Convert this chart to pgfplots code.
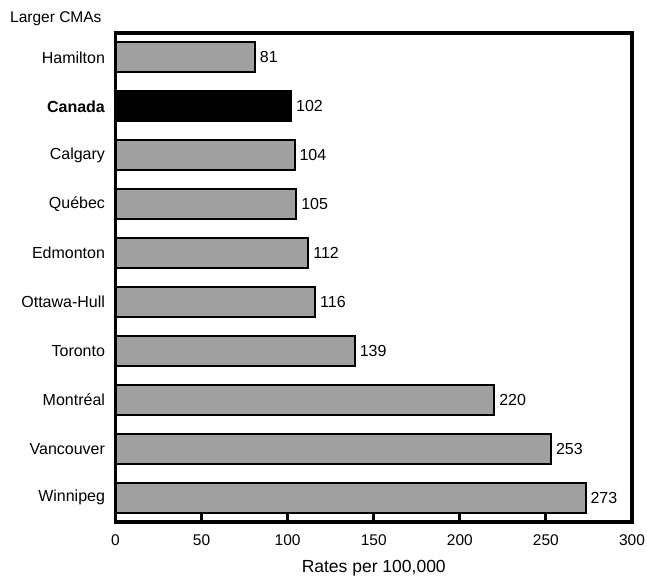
\documentclass[border=0pt]{standalone}
\usepackage{pgfplots}
\pgfplotsset{compat=1.18}
\usepackage{fontspec}
\setmainfont{Liberation Sans}
\definecolor{bargray}{HTML}{A0A0A0}
\begin{document}
\begin{tikzpicture}[x=1pt,y=1pt]
\useasboundingbox (-115.5,-58) rectangle (531.5,522);
\begin{axis}[
  at={(0,0)}, anchor=south west, scale only axis,
  width=516.5pt, height=489pt,
  xmin=0, xmax=300, ymin=-0.5, ymax=9.5, y dir=reverse,
  xtick={0,50,...,300}, ytick={0,...,9},
  yticklabels={Hamilton,\textbf{Canada},Calgary,Québec,Edmonton,Ottawa-Hull,Toronto,Montréal,Vancouver,Winnipeg},
  axis line style={line width=3.5pt, black},
  tick align=inside, xtick pos=bottom, ytick pos=left,
  major tick length=9pt,
  xtick style={line width=3pt, black},
  ytick style={draw=none},
  xticklabel style={font=\fontsize{15.5}{18}\selectfont, yshift=-9pt},
  yticklabel style={font=\fontsize{16}{19}\selectfont, xshift=2pt},
  /pgf/number format/assume math mode=true,
  xlabel={Rates per 100,000},
  xlabel style={font=\fontsize{17.5}{21}\selectfont, at={(axis description cs:0.5,0)}, anchor=center, yshift=-46pt},
  xbar, bar width=30pt,
  nodes near coords,
  point meta=x,
  nodes near coords style={font=\fontsize{16}{19}\selectfont, anchor=west, black, inner sep=4pt},
  clip=false,
]
\addplot[fill=bargray, draw=black, line width=2pt, bar shift=0pt] coordinates {
  (81,0) (104,2) (105,3) (112,4) (116,5) (139,6) (220,7) (253,8) (273,9)
};
\addplot[fill=black, draw=black, line width=2pt, bar shift=0pt] coordinates {
  (102,1)
};
\draw[line width=3.5pt, black] (rel axis cs:0,0) rectangle (rel axis cs:1,1);
\end{axis}
\node[anchor=west, font=\fontsize{15.5}{18}\selectfont, inner sep=0pt] at (-105.5,503) {Larger CMAs};
\end{tikzpicture}
\end{document}
